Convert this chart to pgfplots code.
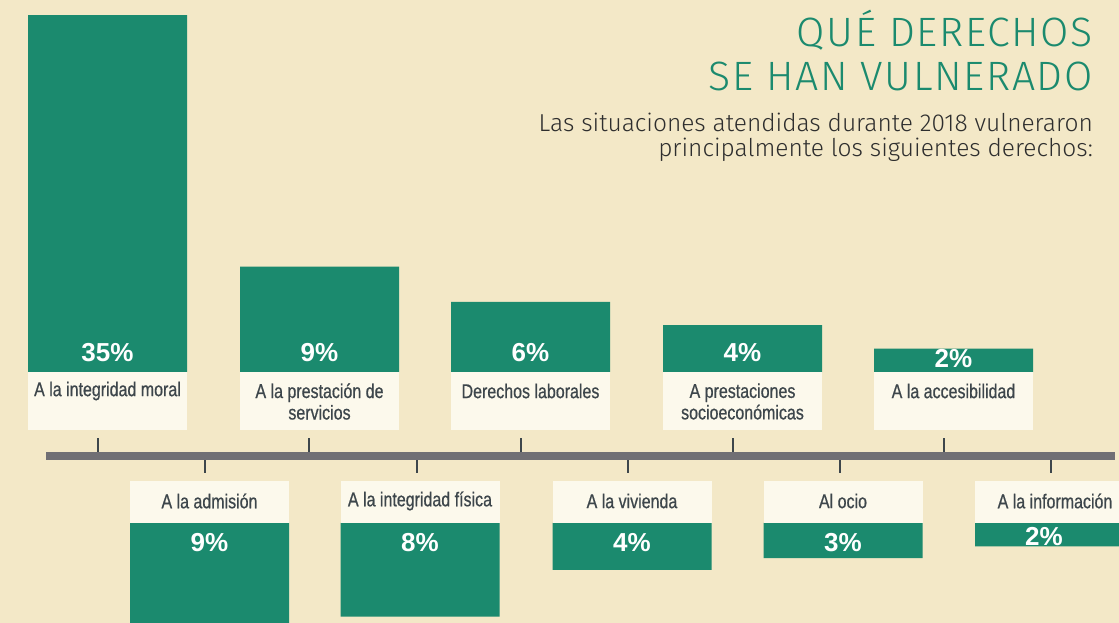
\documentclass[border=0pt]{standalone}
\usepackage{pgfplots}
\pgfplotsset{compat=1.18}
\usepackage{pgfplotstable}
\usepackage{fontspec}
\setmainfont{Liberation Sans}
\newfontfamily\labfont{Liberation Sans}[FakeStretch=0.8, FakeBold=0.6]
\newfontfamily\pctfont{Liberation Sans}
\newfontfamily\titlefont{Fira Sans Light}[LetterSpace=4]
\newfontfamily\subfont{Fira Sans Light}
\definecolor{bg}{HTML}{F3E8C7}
\definecolor{bargreen}{HTML}{1B8A6E}
\definecolor{boxc}{HTML}{FCF9EC}
\definecolor{linegray}{HTML}{706F74}
\definecolor{labc}{HTML}{3D464B}
\definecolor{subc}{HTML}{2E2E2E}

\pgfplotstableread{
x v
107.5 35
319.5 9
530.5 6
742.5 4
953.5 2
}\uppertab
\pgfplotstableread{
x v
209.5 9
420 8
632 4
843 3
1054.5 2
}\lowertab

\begin{document}
\begin{tikzpicture}
\fill[bg] (0pt,0pt) rectangle (1119pt,623pt);
% upper bars
\begin{axis}[at={(0pt,251pt)}, anchor=south west, scale only axis,
  width=1119pt, height=356pt, xmin=0, xmax=1119, ymin=0, ymax=30.43,
  axis lines=none, ticks=none, clip=true, ybar, bar width=159]
\addplot[fill=bargreen, draw=none] table[x=x, y=v] {\uppertab};
\end{axis}
% lower bars
\begin{axis}[at={(0pt,0pt)}, anchor=south west, scale only axis,
  width=1119pt, height=100pt, xmin=0, xmax=1119, ymin=-8.547, ymax=0,
  axis lines=none, ticks=none, clip=true, ybar, bar width=159]
\addplot[fill=bargreen, draw=none] table[x=x, y expr=-\thisrow{v}] {\lowertab};
\end{axis}
\begin{scope}[x=1pt,y=1pt]
% axis line and ticks
\fill[linegray] (46,163) rectangle (1115,171);
\foreach \t in {98,309,521,733,944} \draw[labc, line width=1.5pt] (\t,171) -- (\t,185);
\foreach \t in {205,417,628,840,1051} \draw[labc, line width=1.5pt] (\t,150) -- (\t,163);
% label boxes
\foreach \c in {107.5,319.5,530.5,742.5,953.5} \fill[boxc] (\c-79.5,193) rectangle (\c+79.5,251);
\foreach \c in {209.5,420,632,843,1054.5} \fill[boxc] (\c-79.5,100) rectangle (\c+79.5,142);
% labels
\begin{scope}[every node/.style={font=\labfont\fontsize{20}{21.5}\selectfont, text=labc, align=center, inner sep=0pt}]
\node at (107.5,232) {A la integridad moral};
\node at (319.5,221.5) {A la prestación de\\servicios};
\node at (530.5,232) {Derechos laborales};
\node at (742.5,221.5) {A prestaciones\\socioeconómicas};
\node at (953.5,232) {A la accesibilidad};
\node at (209.5,122) {A la admisión};
\node at (420,122) {A la integridad física};
\node at (632,122) {A la vivienda};
\node at (843,122) {Al ocio};
\node at (1055,122) {A la información};
\end{scope}
\begin{scope}[every node/.style={font=\pctfont\bfseries\fontsize{26}{28}\selectfont, text=white, inner sep=0pt}]
\node at (107.5,270) {35\%};
\node at (319.5,270) {9\%};
\node at (530.5,270) {6\%};
\node at (742.5,270) {4\%};
\node at (953.5,264) {2\%};
\node at (209.5,80) {9\%};
\node at (420,80) {8\%};
\node at (632,80) {4\%};
\node at (843,80) {3\%};
\node at (1044,86) {2\%};
\end{scope}
% title
\node[anchor=base east, inner sep=0pt, text=bargreen, font=\titlefont\fontsize{41}{44}\selectfont] at (1093,576) {QUÉ DERECHOS};
\node[anchor=base east, inner sep=0pt, text=bargreen, font=\titlefont\fontsize{41}{44}\selectfont] at (1093,532) {SE HAN VULNERADO};
\node[anchor=base east, inner sep=0pt, text=subc, font=\subfont\fontsize{24.5}{28}\selectfont] at (1093,491) {Las situaciones atendidas durante 2018 vulneraron};
\node[anchor=base east, inner sep=0pt, text=subc, font=\subfont\fontsize{24.5}{28}\selectfont] at (1093,466) {principalmente los siguientes derechos:};
\end{scope}
\pgfresetboundingbox
\path[use as bounding box] (0pt,0pt) rectangle (1119pt,623pt);
\end{tikzpicture}
\end{document}
